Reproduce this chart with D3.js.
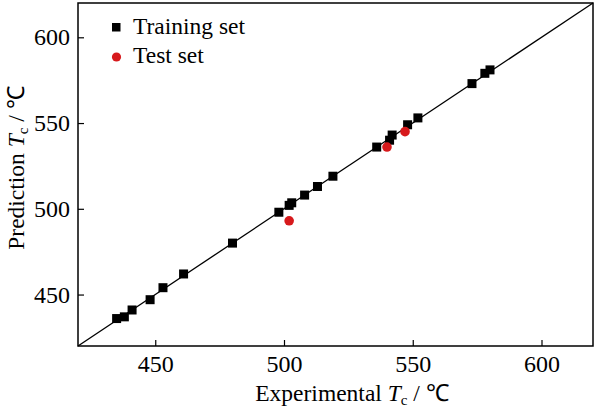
<!DOCTYPE html>
<html>
<head>
<meta charset="utf-8">
<script src="https://cdn.jsdelivr.net/npm/d3@7"></script>
<style>
  body { margin: 0; background: #fff; }
  svg text { font-family: "Liberation Serif", "Times New Roman", serif; fill: #000; }
</style>
</head>
<body>
<svg id="chart"></svg>
<script>
var width = 597, height = 408
var margin = {top: 3, right: 4, bottom: 62, left: 78}

// values
var trainExp  = [435, 438, 441, 448, 453, 461, 480, 498, 502, 503, 508, 513, 519, 536, 541, 542, 548, 552, 573, 578, 580]
var trainPred = [436, 437, 441, 447, 454, 462, 480, 498, 502, 503.5, 508, 513, 519, 536, 540, 543, 549, 553, 573, 579, 581]
var testExp   = [502, 540, 547]
var testPred  = [493, 536, 545]
var tickVals  = [450, 500, 550, 600]
var domain    = [420, 620]

var svg = d3.select("#chart")
    .attr("width", width)
    .attr("height", height)

var x = d3.scaleLinear().domain(domain).range([margin.left, width - margin.right])
var y = d3.scaleLinear().domain(domain).range([height - margin.bottom, margin.top])

// ticks point into the plot
svg.append("g")
    .attr("transform", "translate(0," + (height - margin.bottom) + ")")
    .call(d3.axisBottom(x).tickValues(tickVals).tickSize(-6).tickPadding(9).tickFormat(d3.format("d")))
    .attr("font-size", 24)
    .attr("font-family", null)
    .call(g => g.select(".domain").remove())
    .call(g => g.selectAll("line").attr("stroke-width", 1.2))

svg.append("g")
    .attr("transform", "translate(" + margin.left + ",0)")
    .call(d3.axisLeft(y).tickValues(tickVals).tickSize(-6).tickPadding(8).tickFormat(d3.format("d")))
    .attr("font-size", 24)
    .attr("font-family", null)
    .call(g => g.select(".domain").remove())
    .call(g => g.selectAll("line").attr("stroke-width", 1.2))

// frame
svg.append("rect")
    .attr("x", x(domain[0]))
    .attr("y", y(domain[1]))
    .attr("width", x(domain[1]) - x(domain[0]))
    .attr("height", y(domain[0]) - y(domain[1]))
    .attr("fill", "none")
    .attr("stroke", "#000")
    .attr("stroke-width", 1.5)

// y = x line
svg.append("line")
    .attr("x1", x(domain[0])).attr("y1", y(domain[0]))
    .attr("x2", x(domain[1])).attr("y2", y(domain[1]))
    .attr("stroke", "#000")
    .attr("stroke-width", 1.3)

var sq = 9
svg.append("g")
    .selectAll("rect")
    .data(trainExp)
    .enter()
    .append("rect")
    .attr("x", (d, i) => x(d) - sq / 2)
    .attr("y", (d, i) => y(trainPred[i]) - sq / 2)
    .attr("width", sq)
    .attr("height", sq)
    .attr("fill", "#000")

svg.append("g")
    .selectAll("circle")
    .data(testExp)
    .enter()
    .append("circle")
    .attr("cx", d => x(d))
    .attr("cy", (d, i) => y(testPred[i]))
    .attr("r", 4.8)
    .attr("fill", "#d7191c")

// legend
svg.append("rect").attr("x", 112).attr("y", 23).attr("width", 8.5).attr("height", 8.5).attr("fill", "#000")
svg.append("text").attr("x", 133).attr("y", 34).style("font-size", "23.5px").text("Training set")
svg.append("circle").attr("cx", 116.5).attr("cy", 57).attr("r", 4.6).attr("fill", "#d7191c")
svg.append("text").attr("x", 133).attr("y", 63).style("font-size", "23.5px").text("Test set")

// axis titles
var xt = svg.append("text")
    .attr("x", 352).attr("y", 401)
    .attr("text-anchor", "middle")
    .style("font-size", "23.5px")
xt.append("tspan").text("Experimental ")
xt.append("tspan").style("font-style", "italic").text("T")
xt.append("tspan").attr("dy", 4).style("font-size", "15px").text("c")
xt.append("tspan").attr("dy", -4).text(" / \u2103")

var yt = svg.append("text")
    .attr("transform", "translate(24,168) rotate(-90)")
    .attr("text-anchor", "middle")
    .style("font-size", "23.5px")
yt.append("tspan").text("Prediction ")
yt.append("tspan").style("font-style", "italic").text("T")
yt.append("tspan").attr("dy", 4).style("font-size", "15px").text("c")
yt.append("tspan").attr("dy", -4).text(" / \u2103")
</script>
</body>
</html>
